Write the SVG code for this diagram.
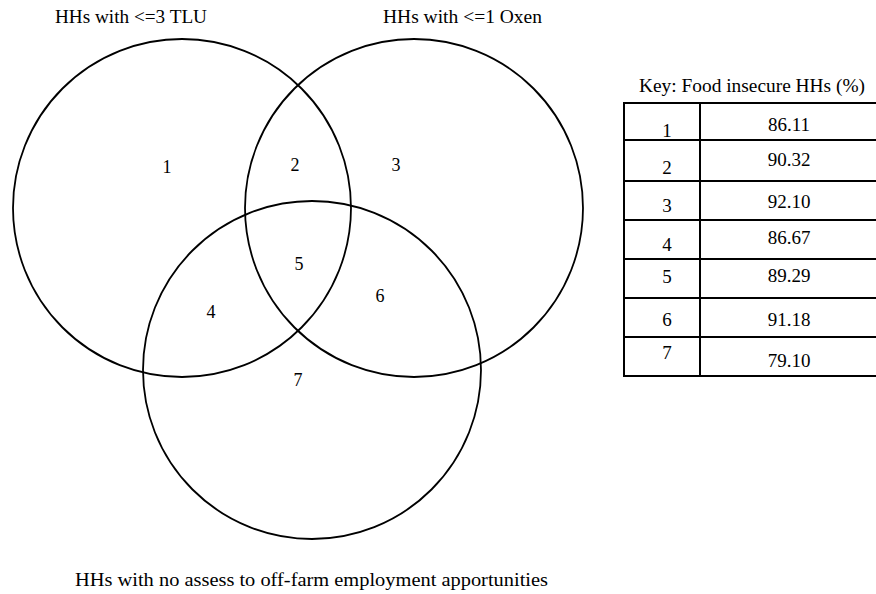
<svg xmlns="http://www.w3.org/2000/svg" width="876" height="594" viewBox="0 0 876 594">
<style>
text{font-family:'Liberation Serif','DejaVu Serif',serif;font-size:18px;fill:#000}
.c{fill:none;stroke:#000;stroke-width:1.8}
.t{stroke:#000;stroke-width:2;fill:none}
.m{text-anchor:middle}
.v{font-size:19px}
</style>
<rect width="876" height="594" fill="#fff"/>
<g id="set-tlu">
<circle class="c" cx="182" cy="208" r="169"/>
<text x="55" y="23" textLength="152" lengthAdjust="spacingAndGlyphs">HHs with &lt;=3 TLU</text>
</g>
<g id="set-oxen">
<circle class="c" cx="414" cy="208" r="169"/>
<text x="383" y="23" textLength="159" lengthAdjust="spacingAndGlyphs">HHs with &lt;=1 Oxen</text>
</g>
<g id="set-offfarm">
<circle class="c" cx="312" cy="370" r="169"/>
<text x="75" y="586" textLength="473" lengthAdjust="spacingAndGlyphs">HHs with no assess to off-farm employment apportunities</text>
</g>
<g id="regions">
<text class="m" x="167" y="173">1</text>
<text class="m" x="295" y="171">2</text>
<text class="m" x="396" y="171">3</text>
<text class="m" x="211" y="318">4</text>
<text class="m" x="299" y="270">5</text>
<text class="m" x="380" y="302">6</text>
<text class="m" x="298" y="386">7</text>
</g>
<g id="key">
<text x="639" y="92" textLength="226" lengthAdjust="spacingAndGlyphs">Key: Food insecure HHs (%)</text>
<path class="t" d="M624,103 H877 M624,140 H877 M624,181 H877 M624,220 H877 M624,259 H877 M624,298 H877 M624,337 H877 M624,376 H877 M624,102 V377 M700,102 V377"/>
<text class="m v" x="667" y="137">1</text>
<text class="m v" x="789" y="131">86.11</text>
<text class="m v" x="667" y="174">2</text>
<text class="m v" x="789" y="166">90.32</text>
<text class="m v" x="667" y="212">3</text>
<text class="m v" x="789" y="208">92.10</text>
<text class="m v" x="667" y="251">4</text>
<text class="m v" x="789" y="244">86.67</text>
<text class="m v" x="667" y="283">5</text>
<text class="m v" x="789" y="282">89.29</text>
<text class="m v" x="667" y="326">6</text>
<text class="m v" x="789" y="326">91.18</text>
<text class="m v" x="667" y="359">7</text>
<text class="m v" x="789" y="367">79.10</text>
</g>
</svg>
